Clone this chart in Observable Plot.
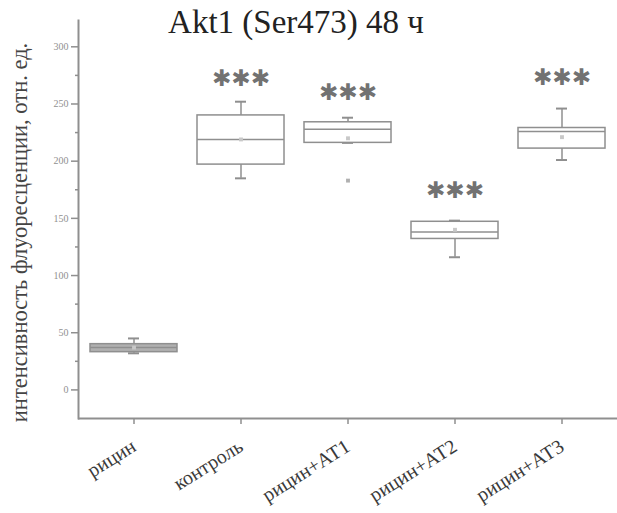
<!DOCTYPE html>
<html>
<head>
<meta charset="utf-8">
<script src="https://cdn.jsdelivr.net/npm/d3@7"></script>
<script src="https://cdn.jsdelivr.net/npm/@observablehq/plot@0.6"></script>
<style>
  html, body { margin: 0; padding: 0; background: #fff; }
</style>
</head>
<body>
<div id="chart"></div>
<script>
const title = "Akt1 (Ser473) 48 ч";
const yLabel = "интенсивность флуоресценции, отн. ед.";
const categories = ["рицин", "контроль", "рицин+АТ1", "рицин+АТ2", "рицин+АТ3"];
const whiskerLow = [32, 185, 216, 116, 201];
const q1 = [33, 197, 216, 132, 211];
const median = [37, 219, 228, 138, 226];
const q3 = [40, 240, 234, 147, 229];
const whiskerHigh = [45, 252, 238, 148, 246];
const means = [37, 219, 220, 140, 221];
const outlierCats = ["рицин+АТ1"];
const outlierVals = [183];
const starCats = ["контроль", "рицин+АТ1", "рицин+АТ2", "рицин+АТ3"];
const starVals = [272, 260, 174, 273];
const yTicks = [0, 50, 100, 150, 200, 250, 300];
const yMinor = [25, 75, 125, 175, 225, 275];

const boxes = categories.map((c, i) => ({
  cat: c, lo: whiskerLow[i], q1: q1[i], med: median[i], q3: q3[i], hi: whiskerHigh[i], mean: means[i]
}));
const outliers = outlierCats.map((c, i) => ({cat: c, v: outlierVals[i]}));
const stars = starCats.map((c, i) => ({cat: c, v: starVals[i]}));

const gray = "#8f8f8f";
const serif = "'Liberation Serif', 'DejaVu Serif', serif";

const plot = Plot.plot({
  width: 617,
  height: 513,
  marginLeft: 78,
  marginRight: 0,
  marginTop: 20,
  marginBottom: 95,
  style: {fontFamily: serif, background: "white"},
  x: {domain: categories, padding: 0, label: null},
  y: {domain: [-25, 323], label: null},
  marks: [
    Plot.frame({anchor: "left", stroke: gray, strokeWidth: 2}),
    Plot.axisY({ticks: yMinor, tickSize: 3, text: null, stroke: gray, strokeWidth: 1.5}),
    Plot.axisY({ticks: yTicks, tickSize: 7, tickPadding: 3, stroke: gray, strokeWidth: 1.5,
      fill: "#909090", fontSize: 10}),
    Plot.ruleY([-25], {stroke: gray, strokeWidth: 2}),
    Plot.axisX({tickSize: 6, tickPadding: 20, tickRotate: -32, stroke: gray, strokeWidth: 1.5,
      fill: "#3a3a3a", fontSize: 20}),
    // whiskers
    Plot.ruleX(boxes, {x: "cat", y1: "q3", y2: "hi", stroke: gray, strokeWidth: 1.5}),
    Plot.ruleX(boxes, {x: "cat", y1: "lo", y2: "q1", stroke: gray, strokeWidth: 1.5}),
    Plot.tickY(boxes, {x: "cat", y: "hi", stroke: gray, strokeWidth: 2, inset: 48}),
    Plot.tickY(boxes, {x: "cat", y: "lo", stroke: gray, strokeWidth: 2, inset: 48}),
    // boxes
    Plot.barY(boxes, {x: "cat", y1: "q1", y2: "q3", insetLeft: 10, insetRight: 10,
      fill: d => d.cat === "рицин" ? "#b0b0b0" : "white", stroke: gray, strokeWidth: 1.5}),
    Plot.tickY(boxes, {x: "cat", y: "med", stroke: gray, strokeWidth: 1.5, inset: 10}),
    Plot.dot(boxes, {x: "cat", y: "mean", symbol: "square", r: 2.2, fill: "#c8c8c8", stroke: null}),
    Plot.dot(outliers, {x: "cat", y: "v", symbol: "square", r: 2.2, fill: "#b0b0b0", stroke: null}),
    // significance
    Plot.text(stars, {x: "cat", y: "v", text: () => "✱✱✱", fontSize: 23, fill: "#727272",
      fontFamily: "'DejaVu Sans', sans-serif", lineAnchor: "middle"}),
    // title
    Plot.text([title], {frameAnchor: "top", dx: -52, dy: 2, lineAnchor: "middle", textAnchor: "middle",
      fontSize: 33, fill: "#222", fontFamily: serif}),
    // y label
    Plot.text([yLabel], {frameAnchor: "left", dx: -59, dy: 13, rotate: -90, lineAnchor: "middle",
      textAnchor: "middle", fontSize: 22.5, fill: "#444", fontFamily: serif})
  ]
});
document.getElementById("chart").appendChild(plot);
</script>
</body>
</html>
